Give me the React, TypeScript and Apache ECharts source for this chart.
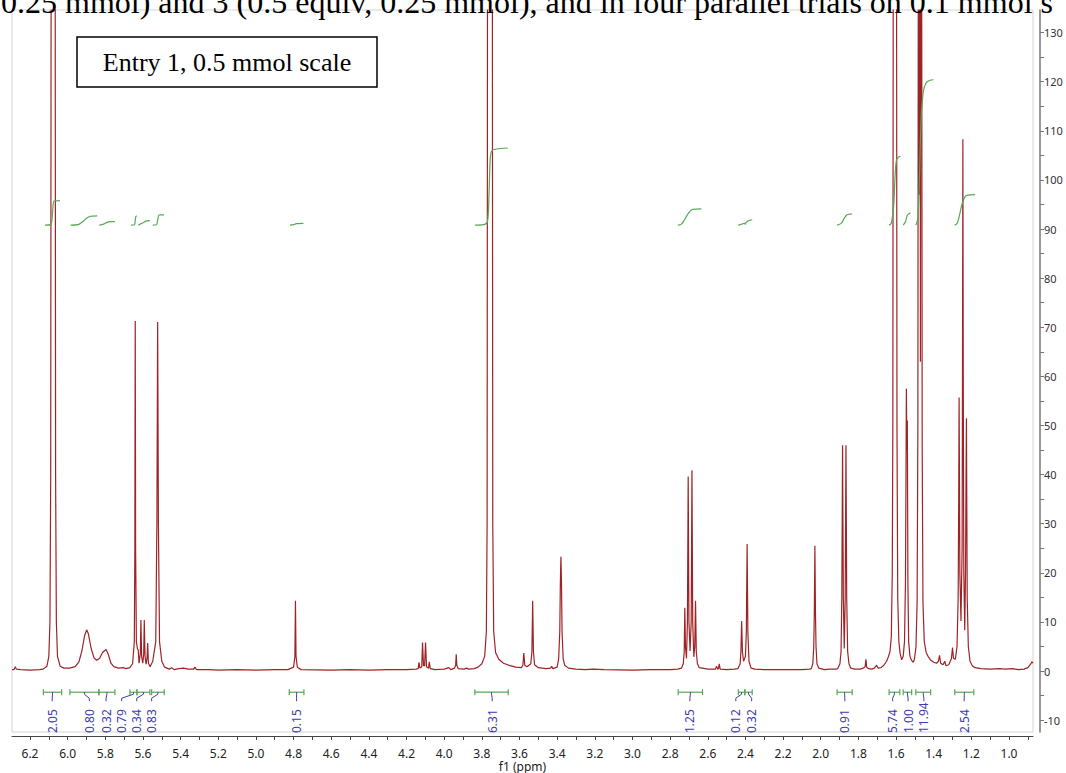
import React, { useEffect, useRef } from "react";
import * as echarts from "echarts";

// ---------- data ----------
const X_MIN = 0.8725;
const X_MAX = 6.2956;
const Y_MIN = -12.4;
const Y_MAX = 134.6;

const xLabelValues = [6.2, 6.0, 5.8, 5.6, 5.4, 5.2, 5.0, 4.8, 4.6, 4.4, 4.2, 4.0, 3.8, 3.6, 3.4, 3.2, 3.0, 2.8, 2.6, 2.4, 2.2, 2.0, 1.8, 1.6, 1.4, 1.2, 1.0];
const xTickValues = [6.2, 6.1, 6.0, 5.9, 5.8, 5.7, 5.6, 5.5, 5.4, 5.3, 5.2, 5.1, 5.0, 4.9, 4.8, 4.7, 4.6, 4.5, 4.4, 4.3, 4.2, 4.1, 4.0, 3.9, 3.8, 3.7, 3.6, 3.5, 3.4, 3.3, 3.2, 3.1, 3.0, 2.9, 2.8, 2.7, 2.6, 2.5, 2.4, 2.3, 2.2, 2.1, 2.0, 1.9, 1.8, 1.7, 1.6, 1.5, 1.4, 1.3, 1.2, 1.1, 1.0, 0.9];
const yLabelValues = [-10, 0, 10, 20, 30, 40, 50, 60, 70, 80, 90, 100, 110, 120, 130];
const yTickValues = [-10, -5, 0, 5, 10, 15, 20, 25, 30, 35, 40, 45, 50, 55, 60, 65, 70, 75, 80, 85, 90, 95, 100, 105, 110, 115, 120, 125, 130];

// spectrum: [ppm, intensity]
const spectrum: [number, number][] = [
  [6.2956, 0.3], [6.285, 0.3], [6.278, 0.9], [6.272, 0.4], [6.25, 0.3], [6.2, 0.2], [6.15, 0.3], [6.13, 0.4],
  [6.11, 1.0], [6.1, 3], [6.094, 10], [6.09, 40], [6.088, 134], [6.077, 300], [6.066, 134], [6.064, 40], [6.06, 10], [6.054, 3], [6.04, 1.0], [6.02, 0.6],
  [5.99, 0.6], [5.96, 0.9], [5.94, 1.9], [5.925, 4], [5.91, 7.2], [5.899, 8.4], [5.89, 7.6], [5.875, 4.6], [5.86, 2.7], [5.846, 2.2], [5.83, 2.6], [5.815, 3.8], [5.796, 4.4], [5.785, 3.5], [5.77, 1.6], [5.755, 0.9], [5.73, 0.6], [5.706, 0.7], [5.69, 0.5], [5.67, 0.7],
  [5.655, 1.5], [5.646, 6], [5.643, 25], [5.641, 71.3], [5.639, 25], [5.635, 6], [5.629, 4.5], [5.625, 4.3], [5.621, 1.6],
  [5.614, 3.5], [5.611, 10.4], [5.607, 3], [5.601, 1.6], [5.596, 3.5], [5.593, 10.4], [5.589, 3], [5.583, 1.4], [5.578, 2.8], [5.575, 5.7], [5.571, 1.6], [5.562, 0.9],
  [5.548, 2], [5.532, 6], [5.526, 30], [5.522, 71.1], [5.518, 30], [5.512, 6], [5.5, 2], [5.485, 0.8], [5.46, 0.4], [5.447, 0.7], [5.435, 0.3], [5.41, 0.5], [5.385, 0.6], [5.36, 0.4], [5.33, 0.4], [5.324, 0.8], [5.315, 0.3],
  [5.25, 0.3], [5.2, 0.2], [5.1, 0.3], [5.0, 0.2], [4.9, 0.3], [4.83, 0.3],
  [4.8, 0.8], [4.793, 3], [4.79, 14.3], [4.787, 3], [4.78, 0.8], [4.76, 0.3],
  [4.6, 0.2], [4.5, 0.3], [4.4, 0.2], [4.3, 0.3], [4.2, 0.3], [4.15, 0.4],
  [4.138, 0.5], [4.134, 1.8], [4.129, 0.6], [4.119, 0.9], [4.115, 5.8], [4.11, 1.1], [4.104, 1.1], [4.099, 5.8], [4.094, 0.9], [4.083, 0.6], [4.079, 1.9], [4.074, 0.5],
  [4.05, 0.3], [4.0, 0.4], [3.975, 0.7], [3.965, 0.3], [3.945, 0.6], [3.939, 1.2], [3.936, 3.4], [3.933, 1.2], [3.925, 0.5], [3.895, 0.4], [3.881, 0.6], [3.87, 0.4],
  [3.84, 0.5], [3.82, 0.8], [3.8, 1.5], [3.785, 3], [3.776, 8], [3.772, 30], [3.77, 134], [3.757, 450], [3.744, 134], [3.742, 30], [3.737, 8], [3.727, 3.8], [3.71, 2.4], [3.685, 1.6], [3.65, 1.1], [3.62, 0.8], [3.59, 0.7],
  [3.582, 1.2], [3.577, 3.7], [3.572, 1.2],
  [3.56, 0.9], [3.54, 1.5], [3.534, 4], [3.53, 14.3], [3.526, 4], [3.52, 1.3], [3.5, 0.7], [3.46, 0.5], [3.435, 0.6], [3.429, 1.0], [3.423, 0.5],
  [3.4, 0.8], [3.392, 2.5], [3.386, 8], [3.383, 18], [3.38, 23.3], [3.377, 18], [3.374, 8], [3.368, 2.5], [3.36, 1.2], [3.34, 0.6], [3.3, 0.4], [3.25, 0.3], [3.21, 0.4], [3.15, 0.3], [3.0, 0.2], [2.9, 0.3], [2.8, 0.3], [2.76, 0.4],
  [2.74, 0.6], [2.73, 1.5], [2.725, 4], [2.722, 12.9], [2.7185, 5], [2.713, 2.6], [2.708, 10], [2.704, 39.6], [2.7, 10], [2.694, 4.1], [2.688, 10], [2.684, 40.9], [2.68, 10], [2.674, 2.9], [2.669, 5], [2.665, 14.3], [2.661, 4], [2.655, 1.5], [2.645, 0.7],
  [2.6, 0.4], [2.56, 0.4], [2.553, 1.0], [2.548, 0.4], [2.543, 0.5], [2.539, 1.5], [2.534, 0.4], [2.5, 0.3], [2.46, 0.4],
  [2.44, 0.5], [2.428, 1.5], [2.424, 4], [2.42, 10.2], [2.416, 4], [2.41, 2], [2.4, 3], [2.395, 8], [2.391, 25.9], [2.387, 8], [2.381, 2], [2.37, 0.6],
  [2.35, 0.4], [2.3, 0.3], [2.2, 0.3], [2.1, 0.3], [2.06, 0.4],
  [2.05, 0.5], [2.042, 1.5], [2.037, 5], [2.034, 12], [2.031, 25.5], [2.028, 12], [2.025, 5], [2.02, 1.5], [2.01, 0.6],
  [1.98, 0.3], [1.95, 0.4], [1.92, 0.4],
  [1.91, 0.5], [1.898, 1.5], [1.892, 4], [1.888, 15], [1.884, 46], [1.88, 15], [1.875, 4.6], [1.87, 15], [1.866, 46], [1.862, 15], [1.857, 4], [1.85, 1.5], [1.84, 0.6],
  [1.82, 0.4], [1.79, 0.4], [1.775, 0.6], [1.764, 0.9], [1.76, 2.4], [1.756, 0.8], [1.745, 0.5], [1.73, 0.4], [1.715, 0.6], [1.703, 1.2], [1.695, 0.6], [1.68, 0.7], [1.665, 1.2], [1.65, 2.0], [1.64, 3.0], [1.632, 4],
  [1.625, 7], [1.62, 20], [1.617, 50], [1.615, 134], [1.606, 350], [1.597, 134], [1.595, 50], [1.591, 15], [1.585, 6], [1.578, 3.5], [1.57, 2.3],
  [1.562, 3], [1.555, 6], [1.55, 18], [1.547, 40], [1.545, 57.5], [1.5425, 45], [1.54, 51], [1.537, 18], [1.533, 6], [1.526, 3], [1.518, 2.2], [1.508, 1.8], [1.502, 2.5],
  [1.494, 5], [1.488, 14], [1.484, 50], [1.482, 134], [1.479, 250], [1.4765, 97], [1.4735, 300], [1.4705, 63], [1.467, 240], [1.4635, 134], [1.461, 45], [1.457, 14], [1.45, 6], [1.44, 3.8], [1.43, 3],
  [1.415, 2.2], [1.4, 1.8], [1.385, 1.6], [1.375, 2.0], [1.369, 3.2], [1.363, 1.6], [1.35, 1.3], [1.341, 2.0], [1.335, 1.1], [1.32, 1.3], [1.306, 2.5], [1.3, 4.8], [1.295, 2.6], [1.285, 2.4],
  [1.276, 5], [1.27, 15], [1.267, 35], [1.265, 55.7], [1.261, 20], [1.255, 10.2], [1.249, 25], [1.247, 60], [1.245, 108.3], [1.243, 60], [1.24, 20], [1.235, 8.3], [1.231, 20], [1.228, 40], [1.226, 51.5], [1.222, 15], [1.216, 5], [1.207, 2], [1.195, 1.1],
  [1.18, 0.7], [1.15, 0.5], [1.1, 0.4], [1.05, 0.5], [1.02, 0.4], [0.98, 0.5], [0.95, 0.3], [0.92, 0.4], [0.9, 0.7], [0.885, 1.4], [0.878, 1.9], [0.8725, 1.6],
];

// integral curves: each a list of [ppm, value]
const integralCurves: [number, number][][] = [
  [[6.12, 90.8], [6.09, 90.9], [6.083, 92], [6.078, 94.5], [6.072, 95.7], [6.041, 95.8]],
  [[5.984, 90.8], [5.944, 90.9], [5.92, 91.5], [5.9, 92.2], [5.88, 92.6], [5.843, 92.7]],
  [[5.832, 90.8], [5.81, 91.0], [5.795, 91.3], [5.775, 91.5], [5.749, 91.5]],
  [[5.664, 90.8], [5.645, 90.9], [5.641, 91.8], [5.637, 92.6], [5.633, 92.7]],
  [[5.625, 90.8], [5.61, 91.1], [5.595, 91.4], [5.58, 91.65], [5.563, 91.7]],
  [[5.548, 90.8], [5.528, 90.9], [5.522, 91.8], [5.516, 92.8], [5.505, 92.9], [5.488, 92.9]],
  [[4.819, 90.8], [4.8, 90.9], [4.785, 91.1], [4.748, 91.15]],
  [[3.837, 90.8], [3.79, 90.9], [3.77, 91.5], [3.762, 97], [3.755, 104.5], [3.745, 106], [3.7, 106.4], [3.662, 106.5]],
  [[2.759, 90.8], [2.74, 91.0], [2.725, 91.8], [2.71, 92.8], [2.695, 93.6], [2.68, 94.0], [2.634, 94.1]],
  [[2.438, 90.8], [2.42, 91.0], [2.403, 91.2]],
  [[2.403, 90.9], [2.39, 91.6], [2.364, 91.9]],
  [[1.913, 90.8], [1.89, 91.2], [1.875, 92.2], [1.86, 92.9], [1.833, 93.1]],
  [[1.637, 90.8], [1.625, 91.2], [1.612, 95], [1.606, 100], [1.598, 104], [1.585, 104.7], [1.576, 104.8]],
  [[1.562, 90.8], [1.55, 91.5], [1.54, 92.8], [1.523, 93.3]],
  [[1.495, 90.8], [1.485, 92], [1.478, 97], [1.472, 106], [1.466, 113], [1.455, 118], [1.44, 119.8], [1.42, 120.3], [1.401, 120.4]],
  [[1.288, 90.8], [1.275, 91.2], [1.265, 92.5], [1.25, 95], [1.235, 96.5], [1.22, 96.9], [1.181, 97.0]],
];

// integration brackets: from ppm, to ppm, label ppm
const integralFrom = [6.129, 5.988, 5.834, 5.669, 5.632, 5.554, 4.823, 3.837, 2.757, 2.438, 2.403, 1.913, 1.637, 1.562, 1.495, 1.288];
const integralTo = [6.032, 5.834, 5.749, 5.632, 5.563, 5.487, 4.745, 3.66, 2.628, 2.403, 2.364, 1.833, 1.58, 1.517, 1.416, 1.187];
const integralLabelPos = [6.082, 5.885, 5.796, 5.713, 5.633, 5.554, 4.784, 3.745, 2.695, 2.451, 2.367, 1.872, 1.618, 1.536, 1.452, 1.238];
const integralLabels = ["2.05", "0.80", "0.32", "0.79", "0.34", "0.83", "0.15", "6.31", "1.25", "0.12", "0.32", "0.91", "5.74", "1.00", "11.94", "2.54"];
const BRACKET_Y = -4.3;

const headerText = "0.25 mmol) and 3 (0.5 equiv, 0.25 mmol), and in four parallel trials on 0.1 mmol s";
const boxText = "Entry 1, 0.5 mmol scale";

// ---------- styles ----------
const SPEC_COLOR = "#9e2326";
const INT_GREEN = "#55a855";
const INT_BLUE = "#3c3cae";

export default function App() {
  const ref = useRef<HTMLDivElement>(null);
  useEffect(() => {
    if (!ref.current) return;
    const chart = echarts.init(ref.current, undefined, { renderer: "svg" });

    const integralSeries = integralCurves.map((c) => ({
      type: "line",
      data: c,
      showSymbol: false,
      smooth: 0.3,
      clip: false,
      lineStyle: { color: INT_GREEN, width: 1.2 },
      z: 4,
      silent: true,
    }));

    const bracketData = integralFrom.map((f, i) => [f, integralTo[i], integralLabelPos[i], BRACKET_Y]);

    chart.setOption({
      animation: false,
      backgroundColor: "#ffffff",
      grid: {
        left: 12,
        right: 33,
        top: 10,
        bottom: 41,
        containLabel: false,
        outerBoundsMode: "none",
        show: true,
        borderColor: "#d4d4d4",
        borderWidth: 1,
        backgroundColor: "#ffffff",
      },
      xAxis: {
        type: "value",
        min: X_MIN,
        max: X_MAX,
        inverse: true,
        position: "bottom",
        offset: 4,
        name: "f1 (ppm)",
        nameLocation: "middle",
        nameGap: 24,
        nameMoveOverlap: false,
        nameTextStyle: { fontFamily: "Noto Sans", fontSize: 12, color: "#222", verticalAlign: "top", lineHeight: 12 },
        axisLine: { show: true, onZero: false, lineStyle: { color: "#444", width: 1 } },
        axisTick: { show: true, length: 4, customValues: xTickValues, lineStyle: { color: "#444" } },
        axisLabel: {
          customValues: xLabelValues,
          formatter: (v: number) => v.toFixed(1),
          fontFamily: "Noto Sans",
          fontSize: 12,
          lineHeight: 12,
          color: "#222",
          margin: 11,
        },
        splitLine: { show: false },
      },
      yAxis: {
        type: "value",
        min: Y_MIN,
        max: Y_MAX,
        position: "right",
        offset: 7,
        axisLine: { show: true, onZero: false, lineStyle: { color: "#777", width: 1.5 } },
        axisTick: { show: true, length: 4, customValues: yTickValues, lineStyle: { color: "#777" } },
        axisLabel: {
          customValues: yLabelValues,
          fontFamily: "Noto Sans",
          fontSize: 11,
          color: "#333",
          margin: 4,
        },
        splitLine: { show: false },
      },
      series: [
        {
          type: "line",
          data: spectrum,
          showSymbol: false,
          clip: true,
          lineStyle: { color: SPEC_COLOR, width: 1.2 },
          z: 3,
          silent: true,
        },
        ...integralSeries,
        {
          type: "custom",
          coordinateSystem: "cartesian2d",
          clip: false,
          silent: true,
          z: 5,
          encode: { x: [0, 1, 2], y: 3 },
          data: bracketData,
          renderItem: (params: any, api: any) => {
            const i = params.dataIndex;
            const p1 = api.coord([api.value(0), api.value(3)]);
            const p2 = api.coord([api.value(1), api.value(3)]);
            const lx = api.coord([api.value(2), api.value(3)])[0];
            const bottom = api.coord([api.value(2), Y_MIN])[1];
            const y = p1[1];
            const cx = (p1[0] + p2[0]) / 2;
            return {
              type: "group",
              children: [
                { type: "line", shape: { x1: p1[0], y1: y, x2: p2[0], y2: y }, style: { stroke: INT_GREEN, lineWidth: 1.2 } },
                { type: "line", shape: { x1: p1[0], y1: y - 3, x2: p1[0], y2: y + 3 }, style: { stroke: INT_GREEN, lineWidth: 1.2 } },
                { type: "line", shape: { x1: p2[0], y1: y - 3, x2: p2[0], y2: y + 3 }, style: { stroke: INT_GREEN, lineWidth: 1.2 } },
                {
                  type: "polyline",
                  shape: { points: [[cx, y], [cx, y + 2], [lx, y + 6], [lx, y + 9]] },
                  style: { stroke: INT_BLUE, lineWidth: 1, fill: "none" },
                },
                {
                  type: "text",
                  x: lx,
                  y: bottom + 1,
                  rotation: Math.PI / 2,
                  style: {
                    text: integralLabels[i],
                    fill: INT_BLUE,
                    font: '12px "Noto Sans"',
                    align: "left",
                    verticalAlign: "middle",
                  },
                },
              ],
            };
          },
        },
      ],
      graphic: [
        {
          type: "text",
          x: 1,
          y: 2,
          z: 10,
          style: {
            text: headerText,
            font: '32px "Liberation Serif"',
            fill: "#000",
            align: "left",
            verticalAlign: "middle",
          },
        },
        {
          type: "rect",
          x: 77,
          y: 37,
          z: 10,
          shape: { width: 300, height: 50 },
          style: { fill: "#fff", stroke: "#000", lineWidth: 1.5 },
        },
        {
          type: "text",
          x: 227,
          y: 62,
          z: 11,
          style: {
            text: boxText,
            font: '26px "Liberation Serif"',
            fill: "#000",
            align: "center",
            verticalAlign: "middle",
          },
        },
      ],
    });
    return () => chart.dispose();
  }, []);
  return <div ref={ref} style={{ position: "fixed", left: 0, top: 0, width: 1066, height: 773 }} />;
}
